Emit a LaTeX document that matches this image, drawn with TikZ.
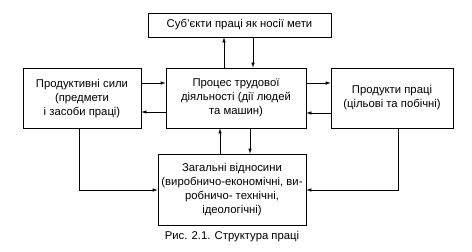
\documentclass[tikz,border=0pt]{standalone}
\usepackage{fontspec}
\setmainfont{Liberation Sans}
\usetikzlibrary{arrows.meta}
\begin{document}
\begin{tikzpicture}[x=1pt,y=1pt,
  box/.style={draw,line width=0.6pt,align=center,inner sep=2pt,font=\fontsize{11.3}{14}\selectfont},
  arr/.style={line width=0.6pt,-{Latex[length=5pt,width=3.4pt]}}]
\useasboundingbox (0,0) rectangle (472,-252);
\node[box,minimum width=183pt,minimum height=24pt] (t) at (239.5,-25) {Суб'єкти праці як носії мети};
\node[box,minimum width=140pt,minimum height=60pt] (c) at (236,-98) {Процес трудової\\діяльності (дії людей\\та машин)};
\node[box,minimum width=118pt,minimum height=60pt] (l) at (82,-98.5) {Продуктивні сили\\(предмети\\і засоби праці)};
\node[box,minimum width=122pt,minimum height=60pt] (r) at (392,-98) {Продукти праці\\(цільові та побічні)};
\node[box,minimum width=148pt,minimum height=71pt] (b) at (232,-189.5) {Загальні відносини\\(виробничо-економічні, ви-\\робничо- технічні,\\ідеологічні)};
\node[font=\fontsize{11.3}{14}\selectfont] (cap) at (232,-237) {Рис. 2.1. Структура праці};
% top <-> centre
\draw[arr] ([xshift=-12pt]c.north) -- ([xshift=-12pt]c.north |- t.south);
\draw[arr] ([xshift=17pt]c.north |- t.south) -- ([xshift=17pt]c.north);
% left <-> centre
\draw[arr] ([yshift=15pt]c.west -| l.east) -- ([yshift=15pt]c.west);
\draw[arr] ([yshift=-14pt]c.west) -- ([yshift=-14pt]c.west -| l.east);
% centre <-> right
\draw[arr] ([yshift=15pt]c.east) -- ([yshift=15pt]c.east -| r.west);
\draw[arr] ([yshift=-15pt]c.east -| r.west) -- ([yshift=-15pt]c.east);
% centre <-> bottom
\draw[arr] ([xshift=-12pt]b.north) -- ([xshift=-12pt]b.north |- c.south);
\draw[arr] ([xshift=18pt]b.north |- c.south) -- ([xshift=18pt]b.north);
% side boxes -> bottom
\coordinate (lc) at (79,-190);
\coordinate (rc) at (398,-190);
\draw[arr] (l.south -| lc) -- (lc) -- (lc -| b.west);
\draw[arr] (r.south -| rc) -- (rc) -- (rc -| b.east);
\end{tikzpicture}
\end{document}
